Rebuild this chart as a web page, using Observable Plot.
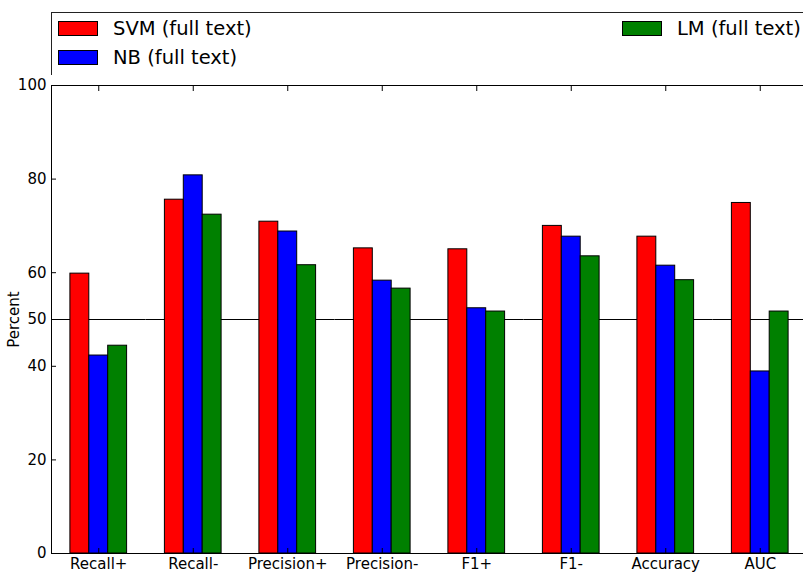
<!DOCTYPE html>
<html><head><meta charset="utf-8">
<script src="https://cdn.jsdelivr.net/npm/d3@7"></script>
<script src="https://cdn.jsdelivr.net/npm/@observablehq/plot@0.6"></script>
<style>
body{margin:0;background:#fff;font-family:"DejaVu Sans",sans-serif;}
#wrap{position:relative;width:803px;height:573px;overflow:hidden;background:#fff;}
#legend{position:absolute;left:51px;top:12px;width:800px;height:64px;box-sizing:border-box;border:1px solid #222;background:#fff;}
.item{position:absolute;display:flex;align-items:center;height:22px;font-size:19.5px;color:#000;white-space:nowrap;}
.sw{width:40px;height:15px;box-sizing:border-box;border:1px solid #000;margin-right:15px;}
#chart{position:absolute;left:0;top:75px;}
</style></head>
<body>
<div id="wrap">
  <div id="legend"></div>
  <div id="chart"></div>
</div>
<script>
const categories = ["Recall+","Recall-","Precision+","Precision-","F1+","F1-","Accuracy","AUC"];
const models = ["SVM (full text)","NB (full text)","LM (full text)"];
const colors = ["red","blue","green"];
const svm = [59.8, 75.6, 70.9, 65.2, 65.0, 70.0, 67.7, 74.9];
const nb  = [42.3, 80.8, 68.8, 58.3, 52.4, 67.7, 61.5, 38.9];
const lm  = [44.4, 72.4, 61.6, 56.6, 51.7, 63.5, 58.4, 51.7];
const yTicks = [0, 20, 40, 50, 60, 80, 100];
const refLine = [50];

const series = [svm, nb, lm];
const data = [];
categories.forEach((c, i) => {
  models.forEach((m, j) => data.push({metric: c, model: m, value: series[j][i]}));
});

// legend (HTML)
const legend = document.getElementById("legend");
const legendPos = [{left: 6, top: 4}, {left: 6, top: 33}, {left: 570, top: 4}];
models.forEach((m, j) => {
  const it = document.createElement("div");
  it.className = "item";
  it.style.left = legendPos[j].left + "px";
  it.style.top = legendPos[j].top + "px";
  const sw = document.createElement("span");
  sw.className = "sw";
  sw.style.background = colors[j];
  const tx = document.createElement("span");
  tx.textContent = m;
  it.appendChild(sw); it.appendChild(tx);
  legend.appendChild(it);
});

const chart = Plot.plot({
  width: 803,
  height: 508,
  marginTop: 10,
  marginLeft: 51,
  marginRight: -4,
  marginBottom: 30,
  style: {fontFamily: "DejaVu Sans", fontSize: "15px", color: "black", background: "white", overflow: "visible"},
  fx: {domain: categories, padding: 0, round: false, label: null},
  x: {domain: models, paddingInner: 0, paddingOuter: 1, round: false, axis: null},
  y: {domain: [0, 100], label: "Percent"},
  color: {domain: models, range: colors},
  marks: [
    Plot.ruleY(refLine, {stroke: "black", strokeWidth: 1}),
    Plot.barY(data, {fx: "metric", x: "model", y: "value", fill: "model", stroke: "black", strokeWidth: 1}),
    Plot.frame({anchor: "top", stroke: "black"}),
    Plot.frame({anchor: "bottom", stroke: "black"}),
    Plot.frame({anchor: "left", facetAnchor: "left", stroke: "black"}),
    Plot.frame({anchor: "right", facetAnchor: "right", stroke: "black"}),
    Plot.axisY(yTicks, {anchor: "left", tickSize: -5, tickPadding: 10, label: "Percent", labelAnchor: "center", labelArrow: "none", labelOffset: 43}),
    Plot.axisY(yTicks, {anchor: "right", tickSize: -5, tickFormat: () => "", label: null}),
    Plot.axisFx({anchor: "bottom", tickSize: -5, tickPadding: 10, label: null}),
    Plot.axisFx({anchor: "top", tickSize: -5, tickFormat: () => "", label: null})
  ]
});
document.getElementById("chart").appendChild(chart);
</script>
</body></html>
